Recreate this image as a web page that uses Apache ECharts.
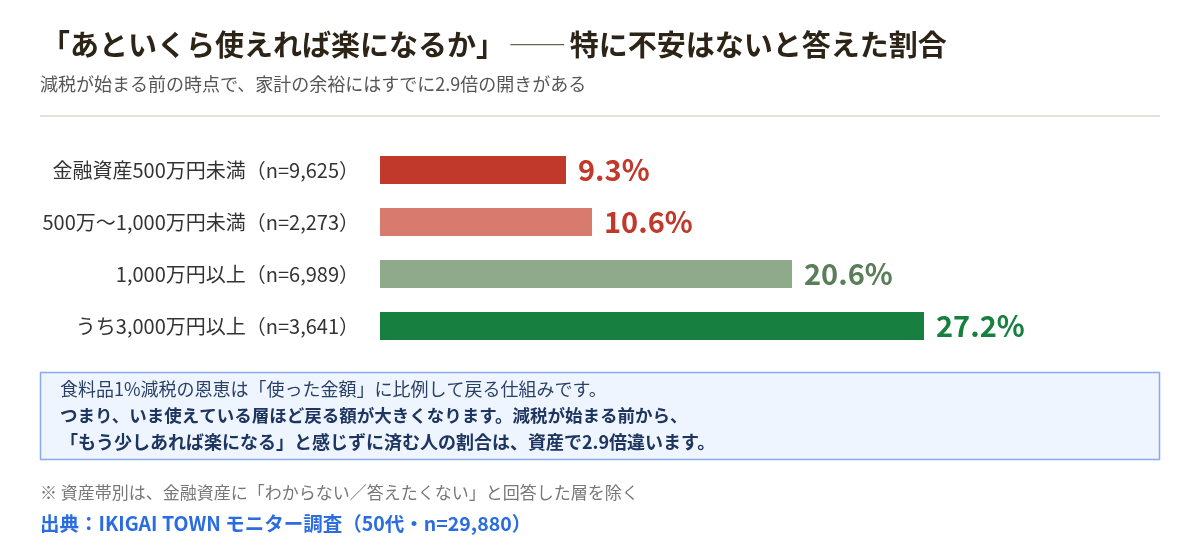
<!DOCTYPE html>
<html>
<head>
<meta charset="utf-8">
<script src="https://cdn.jsdelivr.net/npm/echarts@6/dist/echarts.min.js"></script>
<style>
  html, body { margin: 0; padding: 0; background: #fff; }
  #main { width: 1200px; height: 560px; }
</style>
</head>
<body>
<div id="main"></div>
<script>
const categories = [
  '金融資産500万円未満（n=9,625）',
  '500万〜1,000万円未満（n=2,273）',
  '1,000万円以上（n=6,989）',
  'うち3,000万円以上（n=3,641）'
];
const values = [9.3, 10.6, 20.6, 27.2];
const barColors = ['#c0392b', '#d97a6e', '#8fa98b', '#178040'];
const labelColors = ['#c0392b', '#c0392b', '#5a7d5a', '#178040'];

const titleMain = '「あといくら使えれば楽になるか」';
const titleSub = '特に不安はないと答えた割合';
const subtitleText = '減税が始まる前の時点で、家計の余裕にはすでに2.9倍の開きがある';
const noteLines = [
  '食料品1%減税の恩恵は「使った金額」に比例して戻る仕組みです。',
  'つまり、いま使えている層ほど戻る額が大きくなります。減税が始まる前から、',
  '「もう少しあれば楽になる」と感じずに済む人の割合は、資産で2.9倍違います。'
];
const footnoteText = '※ 資産帯別は、金融資産に「わからない／答えたくない」と回答した層を除く';
const sourceText = '出典：IKIGAI TOWN モニター調査（50代・n=29,880）';

const font = '"Noto Sans CJK JP", "Noto Sans", sans-serif';

const chart = echarts.init(document.getElementById('main'));
chart.setOption({
  animation: false,
  textStyle: { fontFamily: font },
  grid: { left: 380, top: 144, width: 800, height: 208 },
  xAxis: {
    type: 'value', min: 0, max: 40,
    show: false
  },
  yAxis: {
    type: 'category',
    data: categories,
    inverse: true,
    axisLine: { show: false },
    axisTick: { show: false },
    axisLabel: { color: '#333', fontSize: 20, margin: 21, fontFamily: font }
  },
  series: [{
    type: 'bar',
    barWidth: 28,
    data: values.map((v, i) => ({
      value: v,
      itemStyle: { color: barColors[i] },
      label: { color: labelColors[i] }
    })),
    label: {
      show: true,
      position: 'right',
      distance: 12,
      fontSize: 29,
      fontWeight: 'bold',
      fontFamily: font,
      formatter: p => p.value.toFixed(1) + '%'
    }
  }],
  graphic: [
    {
      type: 'text', left: 41, top: 30,
      style: {
        text: '{m|' + titleMain + '} {d|――} {m|' + titleSub + '}',
        rich: {
          m: { font: 'bold 29px ' + font, fill: '#2d2418' },
          d: { font: '29px ' + font, fill: '#6b6358' }
        }
      }
    },
    { type: 'text', left: 40, top: 75, style: { text: subtitleText, font: '18px ' + font, fill: '#555' } },
    { type: 'rect', shape: { x: 40, y: 115, width: 1120, height: 2 }, style: { fill: '#e3e0d8' } },
    { type: 'rect', shape: { x: 40.5, y: 372.5, width: 1119, height: 87 }, style: { fill: '#eef5ff', stroke: '#8aa9ee', lineWidth: 1.5 } },
    { type: 'text', left: 60, top: 380, style: { text: noteLines[0], font: '18px ' + font, fill: '#2a3f66' } },
    { type: 'text', left: 60, top: 407, style: { text: noteLines[1], font: 'bold 17.5px ' + font, fill: '#1e3560' } },
    { type: 'text', left: 60, top: 433, style: { text: noteLines[2], font: 'bold 18px ' + font, fill: '#1e3560' } },
    { type: 'text', left: 40, top: 484, style: { text: footnoteText, font: '17px ' + font, fill: '#777' } },
    { type: 'text', left: 40, top: 514, style: { text: sourceText, font: 'bold 19.5px ' + font, fill: '#2b6de0' } }
  ]
});
</script>
</body>
</html>
